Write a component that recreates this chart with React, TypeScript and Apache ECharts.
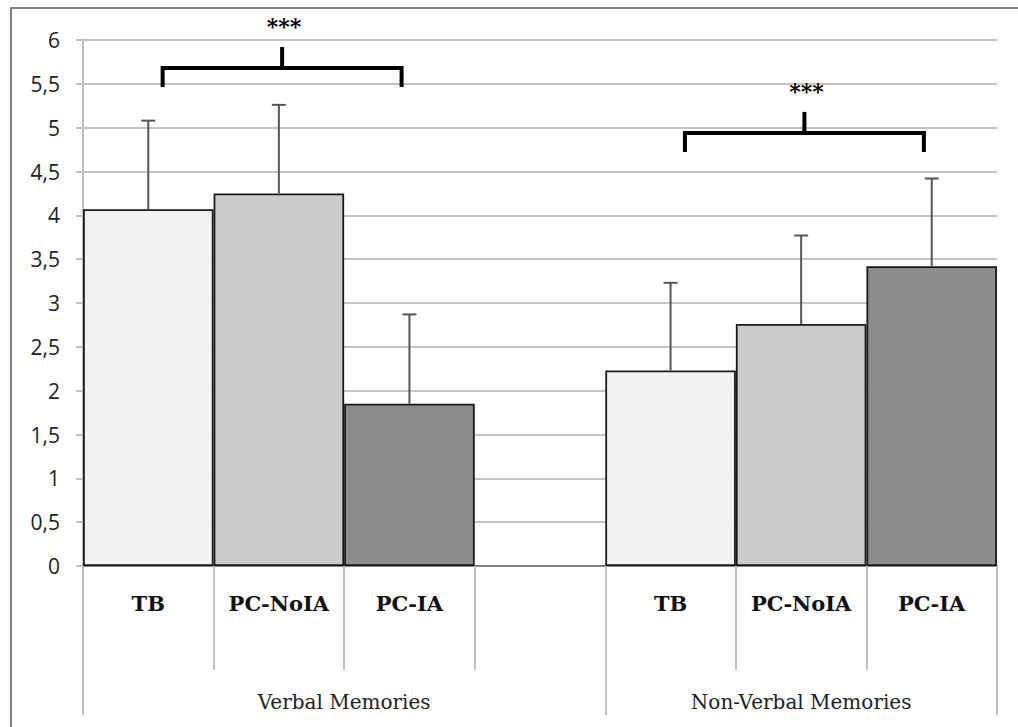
import React, { useEffect, useRef } from "react";
import * as echarts from "echarts";

const categories = ["TB", "PC-NoIA", "PC-IA", "", "TB", "PC-NoIA", "PC-IA"];
const means = [4.07, 4.25, 1.85, null, 2.23, 2.76, 3.42];
const upperErr = [5.08, 5.26, 2.87, null, 3.23, 3.77, 4.42];
const groupLabels = ["", "", "", "", "Verbal Memories", "", "", "", "", "", "", "Non-Verbal Memories", "", "", ""];
const groupBoundaries = [0, 8, 14];
const barColors = ["#f2f2f2", "#cbcbcb", "#8d8d8d", "#ffffff", "#f2f2f2", "#cbcbcb", "#8d8d8d"];
const brackets = [
  [0, 2, 5.68],
  [4, 6, 4.94],
];
const bracketLabels = ["***", "***"];
const yTicks = { min: 0, max: 6, interval: 0.5 };

export default function App() {
  const ref = useRef<HTMLDivElement>(null);
  useEffect(() => {
    if (!ref.current) return;
    const chart = echarts.init(ref.current, null, { renderer: "svg" });
    const barData = means.map((v, i) =>
      v === null ? null : { value: v, itemStyle: { color: barColors[i] } }
    );
    const errData = means
      .map((v, i) => (v === null ? null : [i, v, upperErr[i]]))
      .filter((d) => d !== null);
    const bracketData = brackets.map((b, i) => [b[0], b[1], b[2], i]);
    chart.setOption({
      animation: false,
      backgroundColor: "#ffffff",
      grid: { left: 83, right: 21, top: 40, bottom: 161, containLabel: false },
      xAxis: [
        {
          type: "category",
          data: categories,
          position: "bottom",
          boundaryGap: true,
          axisLine: { show: true, lineStyle: { color: "#808080", width: 2 } },
          axisTick: { show: true, interval: 0, length: 104, lineStyle: { color: "#c0c0c0", width: 2 } },
          axisLabel: {
            interval: 0,
            hideOverlap: false,
            margin: 27,
            fontFamily: "DejaVu Serif",
            fontWeight: "bold",
            fontSize: 21,
            color: "#111",
          },
          splitLine: { show: false },
        },
        {
          type: "category",
          data: groupLabels,
          position: "bottom",
          boundaryGap: false,
          axisLine: { show: false },
          axisTick: {
            show: true,
            length: 149,
            interval: (idx: number) => groupBoundaries.includes(idx),
            lineStyle: { color: "#c0c0c0", width: 2 },
          },
          axisLabel: {
            margin: 126,
            interval: 0,
            fontFamily: "DejaVu Serif",
            fontSize: 20,
            color: "#222",
          },
          splitLine: { show: false },
        },
      ],
      yAxis: {
        type: "value",
        min: yTicks.min,
        max: yTicks.max,
        interval: yTicks.interval,
        axisLine: { show: true, lineStyle: { color: "#c0c0c0", width: 2 } },
        axisTick: { show: true, length: 7, lineStyle: { color: "#c0c0c0", width: 2 } },
        axisLabel: {
          margin: 23,
          fontFamily: "Open Sans",
          fontSize: 21,
          color: "#222",
          formatter: (v: number) => String(v).replace(".", ","),
        },
        splitLine: { show: true, lineStyle: { color: "#c4c4c4", width: 2 } },
      },
      series: [
        {
          type: "bar",
          xAxisIndex: 0,
          data: barData,
          barWidth: "100%",
          barCategoryGap: 0,
          itemStyle: { borderColor: "#1a1a1a", borderWidth: 1.8 },
          z: 2,
        },
        {
          type: "custom",
          xAxisIndex: 0,
          data: errData,
          encode: { x: 0, y: [1, 2] },
          z: 3,
          renderItem: (params: any, api: any) => {
            const x = api.value(0);
            const p0 = api.coord([x, api.value(1)]);
            const p1 = api.coord([x, api.value(2)]);
            const style = { stroke: "#555", lineWidth: 2 };
            return {
              type: "group",
              children: [
                { type: "line", shape: { x1: p0[0], y1: p0[1], x2: p1[0], y2: p1[1] }, style },
                { type: "line", shape: { x1: p1[0] - 7, y1: p1[1], x2: p1[0] + 7, y2: p1[1] }, style },
              ],
            };
          },
        },
        {
          type: "custom",
          xAxisIndex: 0,
          data: bracketData,
          encode: { x: 0, y: 2 },
          clip: false,
          z: 4,
          renderItem: (params: any, api: any) => {
            const bw = api.size([1, 0])[0];
            const a = api.coord([api.value(0), api.value(2)]);
            const b = api.coord([api.value(1), api.value(2)]);
            const xl = a[0] + 0.11 * bw;
            const xr = b[0] - 0.06 * bw;
            const y = a[1];
            const xm = (xl + xr) / 2;
            const style = { stroke: "#000", lineWidth: 4, fill: null };
            return {
              type: "group",
              children: [
                {
                  type: "polyline",
                  shape: { points: [[xl, y + 19], [xl, y], [xr, y], [xr, y + 19]] },
                  style,
                },
                { type: "line", shape: { x1: xm, y1: y, x2: xm, y2: y - 21 }, style },
                {
                  type: "text",
                  style: {
                    text: bracketLabels[api.value(3)],
                    x: xm + 2,
                    y: y - 42,
                    align: "center",
                    verticalAlign: "middle",
                    fontFamily: "DejaVu Serif",
                    fontWeight: "bold",
                    fontSize: 22,
                    fill: "#000",
                  },
                },
              ],
            };
          },
        },
      ],
      graphic: [
        {
          type: "polyline",
          shape: { points: [[11, 727], [11, 8], [1018, 8]] },
          style: { stroke: "#808080", lineWidth: 2, fill: null },
          silent: true,
        },
      ],
    });
    return () => chart.dispose();
  }, []);
  return (
    <div
      ref={ref}
      style={{ position: "fixed", left: 0, top: 0, width: 1018, height: 727 }}
    />
  );
}
